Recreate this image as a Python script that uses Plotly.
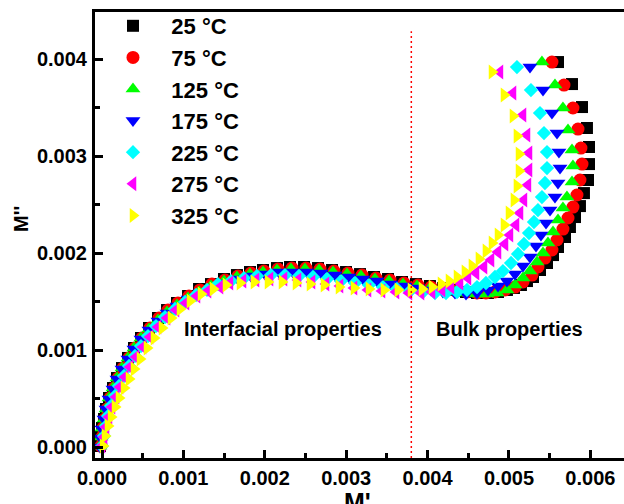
import plotly.graph_objects as go

# ---- legend / series meta ----
temps = ["25 °C", "75 °C", "125 °C", "175 °C", "225 °C", "275 °C", "325 °C"]
colors = ["#000000", "#FF0000", "#00FF00", "#0000FF", "#00FFFF", "#FF00FF", "#FFFF00"]
symbols = ["square", "circle", "triangle-up", "triangle-down", "diamond", "triangle-left", "triangle-right"]
sizes = [12, 13, 13, 13, 11, 13, 13]

# ---- data: M' (real part) and M'' (imaginary part) ----
m1_25 = [-0.025e-3, -0.012e-3, 0.000e-3, 0.025e-3, 0.049e-3, 0.086e-3, 0.135e-3, 0.184e-3, 0.246e-3, 0.319e-3,
         0.393e-3, 0.479e-3, 0.577e-3, 0.688e-3, 0.799e-3, 0.921e-3, 1.057e-3, 1.192e-3, 1.339e-3, 1.499e-3,
         1.658e-3, 1.818e-3, 1.978e-3, 2.150e-3, 2.310e-3, 2.482e-3, 2.654e-3, 2.826e-3, 2.998e-3, 3.170e-3,
         3.342e-3, 3.514e-3, 3.686e-3, 3.857e-3, 4.029e-3, 4.189e-3, 4.337e-3, 4.472e-3, 4.607e-3, 4.742e-3,
         4.865e-3, 4.975e-3, 5.061e-3, 5.147e-3, 5.221e-3, 5.295e-3, 5.381e-3, 5.467e-3, 5.541e-3, 5.602e-3,
         5.688e-3, 5.749e-3, 5.811e-3, 5.872e-3, 5.921e-3, 5.971e-3, 5.983e-3, 5.983e-3, 5.958e-3, 5.897e-3,
         5.774e-3, 5.602e-3]
m2_25 = [0.010e-3, 0.103e-3, 0.196e-3, 0.289e-3, 0.392e-3, 0.505e-3, 0.608e-3, 0.711e-3, 0.814e-3, 0.918e-3,
         1.021e-3, 1.124e-3, 1.227e-3, 1.330e-3, 1.412e-3, 1.485e-3, 1.557e-3, 1.629e-3, 1.680e-3, 1.732e-3,
         1.773e-3, 1.804e-3, 1.825e-3, 1.845e-3, 1.856e-3, 1.856e-3, 1.845e-3, 1.825e-3, 1.804e-3, 1.783e-3,
         1.753e-3, 1.732e-3, 1.701e-3, 1.680e-3, 1.660e-3, 1.639e-3, 1.619e-3, 1.598e-3, 1.588e-3, 1.588e-3,
         1.598e-3, 1.619e-3, 1.639e-3, 1.670e-3, 1.711e-3, 1.753e-3, 1.825e-3, 1.897e-3, 1.979e-3, 2.062e-3,
         2.165e-3, 2.268e-3, 2.371e-3, 2.484e-3, 2.618e-3, 2.753e-3, 2.917e-3, 3.093e-3, 3.289e-3, 3.505e-3,
         3.742e-3, 3.969e-3]

m1_75 = [-0.012e-3, 0.000e-3, 0.012e-3, 0.037e-3, 0.061e-3, 0.098e-3, 0.147e-3, 0.197e-3, 0.258e-3, 0.332e-3,
         0.405e-3, 0.491e-3, 0.590e-3, 0.700e-3, 0.811e-3, 0.934e-3, 1.069e-3, 1.204e-3, 1.351e-3, 1.511e-3,
         1.671e-3, 1.830e-3, 1.990e-3, 2.162e-3, 2.334e-3, 2.506e-3, 2.678e-3, 2.850e-3, 3.022e-3, 3.194e-3,
         3.366e-3, 3.538e-3, 3.710e-3, 3.882e-3, 4.042e-3, 4.201e-3, 4.349e-3, 4.484e-3, 4.607e-3, 4.717e-3,
         4.828e-3, 4.951e-3, 5.074e-3, 5.172e-3, 5.283e-3, 5.356e-3, 5.442e-3, 5.528e-3, 5.590e-3, 5.663e-3,
         5.725e-3, 5.786e-3, 5.835e-3, 5.872e-3, 5.897e-3, 5.884e-3, 5.848e-3, 5.786e-3, 5.676e-3, 5.528e-3]
m2_75 = [0.010e-3, 0.103e-3, 0.196e-3, 0.289e-3, 0.392e-3, 0.505e-3, 0.608e-3, 0.711e-3, 0.814e-3, 0.918e-3,
         1.021e-3, 1.124e-3, 1.227e-3, 1.330e-3, 1.412e-3, 1.485e-3, 1.557e-3, 1.619e-3, 1.680e-3, 1.722e-3,
         1.763e-3, 1.794e-3, 1.814e-3, 1.835e-3, 1.845e-3, 1.845e-3, 1.835e-3, 1.814e-3, 1.794e-3, 1.773e-3,
         1.742e-3, 1.722e-3, 1.691e-3, 1.670e-3, 1.649e-3, 1.629e-3, 1.608e-3, 1.598e-3, 1.588e-3, 1.588e-3,
         1.598e-3, 1.619e-3, 1.649e-3, 1.701e-3, 1.773e-3, 1.856e-3, 1.948e-3, 2.031e-3, 2.134e-3, 2.247e-3,
         2.361e-3, 2.474e-3, 2.598e-3, 2.753e-3, 2.917e-3, 3.082e-3, 3.278e-3, 3.495e-3, 3.732e-3, 3.969e-3]

m1_125 = [-0.025e-3, -0.012e-3, 0.000e-3, 0.025e-3, 0.049e-3, 0.086e-3, 0.135e-3, 0.184e-3, 0.246e-3, 0.319e-3,
          0.393e-3, 0.479e-3, 0.577e-3, 0.688e-3, 0.799e-3, 0.921e-3, 1.057e-3, 1.192e-3, 1.339e-3, 1.499e-3,
          1.658e-3, 1.818e-3, 1.978e-3, 2.150e-3, 2.322e-3, 2.494e-3, 2.666e-3, 2.838e-3, 3.010e-3, 3.182e-3,
          3.354e-3, 3.526e-3, 3.698e-3, 3.870e-3, 4.029e-3, 4.189e-3, 4.337e-3, 4.472e-3, 4.607e-3, 4.730e-3,
          4.853e-3, 4.975e-3, 5.074e-3, 5.172e-3, 5.258e-3, 5.344e-3, 5.418e-3, 5.479e-3, 5.541e-3, 5.602e-3,
          5.663e-3, 5.712e-3, 5.774e-3, 5.786e-3, 5.774e-3, 5.725e-3, 5.663e-3, 5.565e-3, 5.405e-3]
m2_125 = [0.010e-3, 0.103e-3, 0.196e-3, 0.289e-3, 0.392e-3, 0.505e-3, 0.608e-3, 0.711e-3, 0.814e-3, 0.918e-3,
          1.021e-3, 1.124e-3, 1.216e-3, 1.309e-3, 1.392e-3, 1.464e-3, 1.536e-3, 1.598e-3, 1.660e-3, 1.711e-3,
          1.753e-3, 1.783e-3, 1.804e-3, 1.825e-3, 1.835e-3, 1.835e-3, 1.825e-3, 1.804e-3, 1.783e-3, 1.763e-3,
          1.732e-3, 1.711e-3, 1.680e-3, 1.660e-3, 1.639e-3, 1.619e-3, 1.598e-3, 1.588e-3, 1.577e-3, 1.577e-3,
          1.588e-3, 1.619e-3, 1.670e-3, 1.742e-3, 1.814e-3, 1.907e-3, 2.000e-3, 2.103e-3, 2.216e-3, 2.340e-3,
          2.464e-3, 2.577e-3, 2.732e-3, 2.897e-3, 3.062e-3, 3.268e-3, 3.495e-3, 3.732e-3, 3.969e-3]

m1_175 = [-0.025e-3, -0.012e-3, 0.000e-3, 0.025e-3, 0.049e-3, 0.086e-3, 0.135e-3, 0.184e-3, 0.246e-3, 0.319e-3,
          0.393e-3, 0.479e-3, 0.577e-3, 0.688e-3, 0.799e-3, 0.921e-3, 1.057e-3, 1.204e-3, 1.351e-3, 1.511e-3,
          1.671e-3, 1.830e-3, 2.002e-3, 2.174e-3, 2.346e-3, 2.518e-3, 2.690e-3, 2.862e-3, 3.034e-3, 3.206e-3,
          3.378e-3, 3.550e-3, 3.722e-3, 3.882e-3, 4.042e-3, 4.189e-3, 4.337e-3, 4.472e-3, 4.607e-3, 4.742e-3,
          4.865e-3, 4.975e-3, 5.074e-3, 5.172e-3, 5.258e-3, 5.332e-3, 5.393e-3, 5.455e-3, 5.504e-3, 5.565e-3,
          5.602e-3, 5.627e-3, 5.614e-3, 5.590e-3, 5.528e-3, 5.418e-3, 5.258e-3]
m2_175 = [0.000e-3, 0.093e-3, 0.186e-3, 0.289e-3, 0.392e-3, 0.495e-3, 0.598e-3, 0.701e-3, 0.804e-3, 0.907e-3,
          1.010e-3, 1.113e-3, 1.206e-3, 1.299e-3, 1.381e-3, 1.454e-3, 1.526e-3, 1.588e-3, 1.639e-3, 1.691e-3,
          1.732e-3, 1.763e-3, 1.783e-3, 1.804e-3, 1.804e-3, 1.804e-3, 1.794e-3, 1.773e-3, 1.753e-3, 1.732e-3,
          1.711e-3, 1.680e-3, 1.660e-3, 1.639e-3, 1.619e-3, 1.598e-3, 1.588e-3, 1.577e-3, 1.588e-3, 1.619e-3,
          1.660e-3, 1.711e-3, 1.783e-3, 1.866e-3, 1.959e-3, 2.072e-3, 2.186e-3, 2.309e-3, 2.443e-3, 2.577e-3,
          2.722e-3, 2.876e-3, 3.041e-3, 3.237e-3, 3.443e-3, 3.680e-3, 3.917e-3]

m1_225 = [0.000e-3, 0.025e-3, 0.049e-3, 0.074e-3, 0.111e-3, 0.160e-3, 0.209e-3, 0.270e-3, 0.332e-3, 0.405e-3,
          0.479e-3, 0.565e-3, 0.663e-3, 0.774e-3, 0.897e-3, 1.020e-3, 1.155e-3, 1.290e-3, 1.425e-3, 1.585e-3,
          1.744e-3, 1.904e-3, 2.076e-3, 2.248e-3, 2.420e-3, 2.592e-3, 2.764e-3, 2.936e-3, 3.108e-3, 3.280e-3,
          3.452e-3, 3.624e-3, 3.784e-3, 3.943e-3, 4.091e-3, 4.226e-3, 4.361e-3, 4.484e-3, 4.607e-3, 4.717e-3,
          4.828e-3, 4.926e-3, 5.025e-3, 5.111e-3, 5.184e-3, 5.246e-3, 5.307e-3, 5.356e-3, 5.405e-3, 5.442e-3,
          5.467e-3, 5.467e-3, 5.430e-3, 5.381e-3, 5.270e-3, 5.098e-3]
m2_225 = [0.010e-3, 0.113e-3, 0.216e-3, 0.320e-3, 0.423e-3, 0.526e-3, 0.629e-3, 0.732e-3, 0.835e-3, 0.938e-3,
          1.041e-3, 1.144e-3, 1.247e-3, 1.340e-3, 1.423e-3, 1.495e-3, 1.567e-3, 1.619e-3, 1.680e-3, 1.711e-3,
          1.742e-3, 1.763e-3, 1.773e-3, 1.773e-3, 1.763e-3, 1.753e-3, 1.732e-3, 1.711e-3, 1.691e-3, 1.670e-3,
          1.649e-3, 1.629e-3, 1.608e-3, 1.598e-3, 1.588e-3, 1.588e-3, 1.598e-3, 1.619e-3, 1.649e-3, 1.691e-3,
          1.753e-3, 1.814e-3, 1.897e-3, 1.990e-3, 2.093e-3, 2.206e-3, 2.320e-3, 2.443e-3, 2.577e-3, 2.722e-3,
          2.876e-3, 3.041e-3, 3.237e-3, 3.443e-3, 3.680e-3, 3.917e-3]

m1_275 = [0.000e-3, 0.025e-3, 0.049e-3, 0.086e-3, 0.123e-3, 0.172e-3, 0.221e-3, 0.283e-3, 0.344e-3, 0.418e-3,
          0.504e-3, 0.590e-3, 0.688e-3, 0.799e-3, 0.909e-3, 1.032e-3, 1.167e-3, 1.302e-3, 1.450e-3, 1.572e-3,
          1.732e-3, 1.892e-3, 2.064e-3, 2.236e-3, 2.408e-3, 2.580e-3, 2.752e-3, 2.924e-3, 3.096e-3, 3.268e-3,
          3.440e-3, 3.612e-3, 3.771e-3, 3.919e-3, 4.054e-3, 4.177e-3, 4.287e-3, 4.398e-3, 4.496e-3, 4.595e-3,
          4.693e-3, 4.779e-3, 4.865e-3, 4.951e-3, 5.012e-3, 5.086e-3, 5.135e-3, 5.184e-3, 5.233e-3, 5.246e-3,
          5.246e-3, 5.221e-3, 5.172e-3, 5.049e-3, 4.889e-3]
m2_275 = [0.010e-3, 0.103e-3, 0.206e-3, 0.309e-3, 0.412e-3, 0.515e-3, 0.619e-3, 0.722e-3, 0.825e-3, 0.928e-3,
          1.031e-3, 1.134e-3, 1.237e-3, 1.330e-3, 1.412e-3, 1.485e-3, 1.557e-3, 1.608e-3, 1.649e-3, 1.691e-3,
          1.711e-3, 1.722e-3, 1.732e-3, 1.732e-3, 1.722e-3, 1.701e-3, 1.680e-3, 1.660e-3, 1.639e-3, 1.619e-3,
          1.608e-3, 1.598e-3, 1.588e-3, 1.588e-3, 1.598e-3, 1.619e-3, 1.649e-3, 1.691e-3, 1.742e-3, 1.794e-3,
          1.856e-3, 1.928e-3, 2.010e-3, 2.093e-3, 2.186e-3, 2.289e-3, 2.412e-3, 2.546e-3, 2.701e-3, 2.856e-3,
          3.031e-3, 3.216e-3, 3.423e-3, 3.649e-3, 3.866e-3]

m1_325 = [0.012e-3, 0.037e-3, 0.074e-3, 0.111e-3, 0.160e-3, 0.209e-3, 0.270e-3, 0.332e-3, 0.393e-3, 0.467e-3,
          0.553e-3, 0.639e-3, 0.737e-3, 0.848e-3, 0.958e-3, 1.081e-3, 1.216e-3, 1.364e-3, 1.523e-3, 1.695e-3,
          1.867e-3, 2.039e-3, 2.211e-3, 2.383e-3, 2.555e-3, 2.727e-3, 2.912e-3, 3.096e-3, 3.280e-3, 3.464e-3,
          3.636e-3, 3.796e-3, 3.931e-3, 4.054e-3, 4.165e-3, 4.263e-3, 4.361e-3, 4.459e-3, 4.545e-3, 4.631e-3,
          4.717e-3, 4.791e-3, 4.865e-3, 4.939e-3, 5.000e-3, 5.061e-3, 5.098e-3, 5.123e-3, 5.123e-3, 5.098e-3,
          5.049e-3, 4.939e-3, 4.791e-3]
m2_325 = [0.010e-3, 0.113e-3, 0.216e-3, 0.309e-3, 0.412e-3, 0.505e-3, 0.608e-3, 0.701e-3, 0.804e-3, 0.907e-3,
          1.021e-3, 1.124e-3, 1.227e-3, 1.330e-3, 1.423e-3, 1.505e-3, 1.577e-3, 1.629e-3, 1.670e-3, 1.691e-3,
          1.701e-3, 1.701e-3, 1.701e-3, 1.691e-3, 1.680e-3, 1.670e-3, 1.649e-3, 1.639e-3, 1.629e-3, 1.619e-3,
          1.619e-3, 1.619e-3, 1.629e-3, 1.649e-3, 1.680e-3, 1.711e-3, 1.753e-3, 1.804e-3, 1.866e-3, 1.938e-3,
          2.021e-3, 2.103e-3, 2.186e-3, 2.289e-3, 2.412e-3, 2.546e-3, 2.691e-3, 2.845e-3, 3.021e-3, 3.206e-3,
          3.412e-3, 3.629e-3, 3.866e-3]

m_real = [m1_25, m1_75, m1_125, m1_175, m1_225, m1_275, m1_325]
m_imag = [m2_25, m2_75, m2_125, m2_175, m2_225, m2_275, m2_325]

boundary_x = 0.0038  # interfacial / bulk separation

FONT = "Liberation Sans, Arial, sans-serif"
PAD = "\u00a0\u00a0\u00a0"  # widen gap between legend symbol and label

fig = go.Figure()
for name, col, sym, sz, xs, ys in zip(temps, colors, symbols, sizes, m_real, m_imag):
    fig.add_trace(go.Scatter(
        x=xs, y=ys, mode="markers", name=PAD + name,
        marker=dict(color=col, symbol=sym, size=sz, line=dict(width=0)),
    ))

fig.add_shape(type="line", xref="x", yref="paper", x0=boundary_x, x1=boundary_x,
              y0=0, y1=0.957, line=dict(color="#FF0000", width=1.5, dash="2px,3px"))

fig.add_annotation(x=0.002224, y=0.001216, xref="x", yref="y", showarrow=False,
                   text="<b>Interfacial properties</b>", font=dict(family=FONT, size=20, color="black"))
fig.add_annotation(x=0.005012, y=0.001216, xref="x", yref="y", showarrow=False,
                   text="<b>Bulk properties</b>", font=dict(family=FONT, size=20, color="black"))

# axis titles
fig.add_annotation(x=-0.1645, y=0.536, xref="paper", yref="paper", showarrow=False,
                   text="<b>M''</b>", textangle=-90, font=dict(family=FONT, size=20, color="black"))
fig.add_annotation(x=0.497, y=-0.0625, xref="paper", yref="paper", showarrow=False, yanchor="top",
                   text="<b>M'</b>", font=dict(family=FONT, size=25, color="black"))

axis_common = dict(
    showline=True, linewidth=3, linecolor="black",
    ticks="inside", ticklen=8, tickwidth=3, tickcolor="black",
    showgrid=False, zeroline=False,
    tickfont=dict(family=FONT, size=20, color="black", weight="bold"),
    tickformat=".3f", dtick=0.001, tick0=0,
    minor=dict(dtick=0.0005, ticks="inside", ticklen=5, tickwidth=3, tickcolor="black", showgrid=False),
)

fig.update_xaxes(range=[-0.000086, 0.006413], mirror=True, ticklabelstandoff=0, **axis_common)
fig.update_yaxes(range=[-0.0001134, 0.004485], mirror=False, ticklabelstandoff=1, **axis_common)

fig.update_layout(
    width=624, height=504, autosize=False,
    margin=dict(l=95, r=0, t=12, b=46),
    paper_bgcolor="white", plot_bgcolor="white",
    font=dict(family=FONT, color="black"),
    legend=dict(x=0.034, y=1.0157, xanchor="left", yanchor="top",
                bgcolor="rgba(0,0,0,0)", borderwidth=0,
                font=dict(family=FONT, size=22, color="black", weight="bold")),
)

fig.write_html("out.html", config={"displayModeBar": False})
